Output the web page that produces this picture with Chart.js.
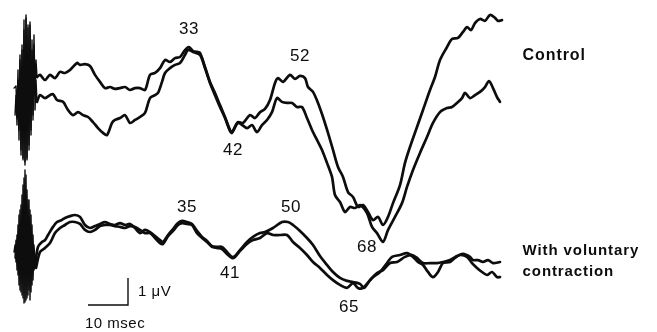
<!DOCTYPE html>
<html>
<head>
<meta charset="utf-8">
<script src="https://cdn.jsdelivr.net/npm/chart.js@4/dist/chart.umd.min.js"></script>
<style>
html,body{margin:0;padding:0;background:#fff;}
#wrap{width:657px;height:332px;position:relative;}
</style>
</head>
<body>
<div id="wrap"><canvas id="c"></canvas></div>
<script>
// ---- Control recordings (time in ms from stimulus, amplitude in µV relative to baseline) ----
const ctrlArtifact1Ms = [-2.75,-2.25,-2,-1.75,-1.5,-1.25,-1,-0.75,-0.5,-0.25,0,0.25,0.5,0.75,1,1.25,1.5,1.75,2,2.25,2.5,2.75,3];
const ctrlArtifact1Uv = [-0.30,-0.22,-1.41,0.37,-1.85,0.93,-2.59,1.30,-2.96,2.22,-3.15,2.41,-2.96,2.04,-2.59,2.15,-2.04,1.48,-1.48,1.67,-0.56,0.74,0.11];
const ctrlArtifact2Ms = [-2.5,-2.25,-2,-1.75,-1.5,-1.25,-1,-0.75,-0.5,-0.25,0,0.25,0.5,0.75,1,1.25,1.5,1.75,2,2.25,2.5,2.75,3];
const ctrlArtifact2Uv = [-1.30,-0.56,-1.67,0,-2.22,0.74,-2.78,1.11,-2.89,1.85,-3.04,2.30,-2.89,1.93,-2.41,2.04,-1.85,1.11,-1.30,1.30,-1.11,0,-0.81];

const ctrlAMs = [3,3.75,5,6.25,7.5,8.75,10,11.25,13,13.75,15,16.25,17.5,18.75,20,21.25,22.5,23.75,25,26.25,27.5,28.75,30,31.25,32.5,33.75,35,36.25,37.5,38.75,40,41,42,43,43.75,45,46.25,47.5,48.75,50,51.25,51.75,53.25,54.5,56.25,57.5,58.75,60,61.25,62.5,63.25,64.5,66.25,67.5,68.75,70,70.75,72,73.25,74.5,75.75,77,78.25,79.5,80.75,82,83.25,84.5,85.75,87,88.25,89.5,90.75,92,93.75,95,96.25,98,99.5,101.25,102.5,103.75,105.5,106.75,108.25,109.5,110.5,111.5,112.5,113.75,115,116.25,117.5,118.25,119.25];
const ctrlAUv = [0.11,0.19,0,0.19,0.07,0.30,0.26,0.37,0.63,0.56,0.59,0.52,0.19,-0.07,-0.30,-0.26,-0.33,-0.30,-0.26,-0.37,-0.30,-0.30,-0.37,0.19,0.26,0.44,0.74,0.67,0.81,0.85,1.11,1.22,1.07,1.04,1.0,0.48,-0.07,-0.48,-0.93,-1.37,-1.85,-1.93,-1.56,-1.59,-1.30,-1.41,-1.19,-1.07,-0.74,-0.11,0.07,-0.07,0.19,0.04,0.15,0.07,-0.26,-0.44,-0.85,-1.37,-1.96,-2.59,-3.22,-3.59,-4.15,-4.33,-4.70,-4.63,-4.89,-5.19,-5.07,-5.37,-5.07,-4.56,-3.89,-3.07,-2.48,-1.74,-1.11,-0.37,0.11,0.74,1.22,1.52,1.56,1.78,1.96,1.85,2.11,2.26,2.19,2.41,2.30,2.19,2.22];

const ctrlBMs = [3,3.75,5,6.25,7,8,9.5,10.75,12,13.25,14.5,15.75,17,18.25,19.5,20.5,21.75,22.5,23.75,25,26.25,27.5,28.75,30,31.25,32.5,33.25,34.25,35,36.25,37.5,38.75,40,40.75,42,43.75,45,46.25,47.5,48.75,50,51.25,51.75,53.25,55.5,56.75,58,59.25,60.5,61.75,63,64.25,65.5,66.75,68,69.25,70.5,71.75,73,74.25,75.5,76.75,77.5,78.75,80,81.25,82.5,83.75,85.5,86.75,88,89.5,90.75,92.5,94.25,95.5,97,98.75,100.5,102,103.75,105.5,106.75,108,109.25,110,111.25,112.5,113.75,115,116,117,118,118.75];
const ctrlBUv = [-0.81,-0.56,-0.67,-0.56,-0.52,-0.74,-0.81,-1.11,-1.30,-1.19,-1.30,-1.37,-1.56,-1.78,-1.96,-2.04,-1.59,-1.48,-1.41,-1.30,-1.59,-1.48,-1.37,-1.22,-0.67,-0.56,-0.48,-0.07,0.26,0.44,0.56,0.63,0.93,1.11,1.04,0.93,0.44,-0.11,-0.56,-1.0,-1.41,-1.89,-1.96,-1.59,-1.78,-1.67,-1.93,-1.67,-1.48,-1.19,-0.67,-0.81,-0.85,-0.85,-1.0,-1.0,-1.41,-1.85,-2.22,-2.59,-3.07,-3.59,-4.26,-4.52,-4.89,-4.70,-4.74,-4.63,-4.93,-5.44,-5.67,-6.0,-5.56,-5.07,-4.56,-3.96,-3.33,-2.70,-2.11,-1.59,-1.19,-1.04,-1.0,-0.85,-0.67,-0.48,-0.67,-0.56,-0.44,-0.26,-0.04,-0.30,-0.63,-0.81];

// ---- With voluntary contraction ----
const volArtifact1Ms = [-2.75,-2.5,-2.25,-2,-1.75,-1.5,-1.25,-1,-0.75,-0.5,-0.25,0,0.25,0.5,0.75,1,1.25,1.5,1.75,2,2.25,2.5];
const volArtifact1Uv = [-0.63,-0.37,-1.0,0,-1.48,0.74,-2.04,1.11,-2.22,1.85,-2.52,2.41,-2.41,1.67,-2.22,1.30,-2.41,0.74,-1.85,0,-1.30,-1.11];
const volArtifact2Ms = [-2.5,-2.25,-2,-1.75,-1.5,-1.25,-1,-0.75,-0.5,-0.25,0,0.25,0.5,0.75,1,1.25,1.5,1.75,2,2.25,2.5,2.75];
const volArtifact2Uv = [-0.85,-0.19,-1.30,0.37,-1.85,0.93,-2.11,1.48,-2.33,2.11,-2.48,2.22,-2.33,1.30,-2.04,0.93,-2.11,0.37,-1.67,-0.37,-1.0,-1.22];

const volAMs = [2.5,3.25,4.25,5,5.75,7,8,9.25,10,11.25,12.5,13.75,15,16.25,17.5,18.75,20,21.25,22.5,23.75,25,26.25,27.5,28.75,30,31.25,32.5,33.75,34.5,35.75,37,38.25,39.25,40.5,41.75,43,44.25,45.5,46.75,48,49.25,50.5,51.75,52.5,53.75,55.5,57,58.75,60,62,64.25,65.75,67,68.75,70.5,72,73.75,75.5,77,78.75,80.5,82,83.75,84.75,85.75,86.75,88.75,90.5,91.75,93.75,95.5,97,98.25,99.5,100.75,102,103.25,104.5,106.25,107.5,108.75,110.5,111.75,113,114.25,115.5,116.75,118,118.75];
const volAUv = [-1.11,-0.44,-0.26,-0.19,0,0.30,0.48,0.56,0.63,0.70,0.74,0.67,0.37,0.26,0.33,0.41,0.48,0.41,0.37,0.44,0.37,0.41,0.26,0.07,0.19,0.11,-0.04,-0.19,-0.26,0,0.22,0.44,0.52,0.48,0.41,0.15,-0.07,-0.22,-0.41,-0.44,-0.44,-0.63,-0.81,-0.78,-0.56,-0.26,-0.07,0.07,0.11,0.26,0.48,0.48,0.37,0.15,-0.11,-0.37,-0.78,-1.11,-1.37,-1.59,-1.70,-1.74,-1.81,-1.96,-1.78,-1.59,-1.37,-1.04,-0.81,-0.74,-0.67,-0.81,-1.0,-1.11,-1.37,-1.56,-1.37,-1.04,-1.0,-0.85,-0.74,-0.81,-1.04,-1.22,-1.37,-1.48,-1.37,-1.56,-1.56];

const volBMs = [2.75,3.75,5,6.25,7.5,8.75,10,11.25,12.5,13.75,15,16.25,17.5,18.75,20,21.25,22.5,23.75,25,26.25,27.5,28.75,30,31.25,32.5,33.75,34.5,35.75,37,38.25,39.25,40.5,41.75,43,44.25,45.5,46.75,48,49.25,50.5,51.75,52.5,53.75,55.5,57,58.75,60.5,62,63.75,65.5,67,68.75,70.5,72,73.75,75.5,77,78.75,80.5,82,83.25,84.5,86.25,88,89.5,91.25,93,95,96.75,98,99.5,101.25,103,104.5,106.25,108,109.5,111.25,112,113.25,114.5,115.75,117,118.75];
const volBUv = [-1.22,-0.63,-0.48,-0.30,0.07,0.26,0.37,0.48,0.48,0.41,0.19,0.11,0.19,0.33,0.37,0.37,0.33,0.30,0.26,0.33,0.30,0.19,0.07,0.07,-0.11,-0.30,-0.33,-0.04,0.15,0.37,0.44,0.41,0.37,0.07,-0.11,-0.26,-0.44,-0.48,-0.52,-0.70,-0.85,-0.81,-0.59,-0.33,-0.19,-0.11,0.07,0,0,0,-0.26,-0.48,-0.74,-1.0,-1.22,-1.48,-1.67,-1.85,-1.96,-1.78,-1.96,-1.96,-1.67,-1.41,-1.30,-1.04,-1.0,-0.81,-0.74,-0.85,-1.04,-1.04,-1.04,-1.0,-0.93,-0.78,-0.70,-0.81,-0.93,-0.93,-1.0,-0.93,-1.04,-1.0];

// ---- Peak latency labels (ms) and trace names ----
const ctrlPeakLabels = ["33","42","52","68"];
const volPeakLabels = ["35","41","50","65"];
const traceNames = ["Control", "With voluntary", "contraction"];
const scaleBarMs = 10;
const scaleBarUv = 1;
const scaleBarLabels = ["1 \u03bcV", "10 msec"];

// ---- Layout (annotation anchor positions in data units) ----
const ctrlLabelPos = [[41,1.89],[52,-2.59],[68.75,0.89],[85.5,-6.19]];
const volLabelPos = [[40.5,1.04],[51.25,-1.41],[66.5,1.04],[81,-2.67]];
const barOrigin = [15.75,-2.593];

function pts(xs, ys){ return xs.map((x,i)=>({x:x, y:ys[i]})); }

const INK = '#0d0d0d';
function trace(data, axis, w, tension){
  return {data:data, yAxisID:axis, borderColor:INK, borderWidth:w, pointRadius:0,
          tension:tension, fill:false, borderJoinStyle:'round', borderCapStyle:'round'};
}

const datasets = [
  trace(pts(ctrlArtifact1Ms, ctrlArtifact1Uv), 'yC', 1.4, 0),
  trace(pts(ctrlArtifact2Ms, ctrlArtifact2Uv), 'yC', 1.4, 0),
  trace(pts(ctrlAMs, ctrlAUv), 'yC', 2.7, 0.3),
  trace(pts(ctrlBMs, ctrlBUv), 'yC', 2.7, 0.3),
  trace(pts(volArtifact1Ms, volArtifact1Uv), 'yV', 1.4, 0),
  trace(pts(volArtifact2Ms, volArtifact2Uv), 'yV', 1.4, 0),
  trace(pts(volAMs, volAUv), 'yV', 2.7, 0.3),
  trace(pts(volBMs, volBUv), 'yV', 2.7, 0.3),
  // calibration bar
  {data:[{x:barOrigin[0], y:barOrigin[1]},{x:barOrigin[0]+scaleBarMs, y:barOrigin[1]},{x:barOrigin[0]+scaleBarMs, y:barOrigin[1]+scaleBarUv}],
   yAxisID:'yV', borderColor:INK, borderWidth:1.4, pointRadius:0, tension:0, fill:false}
];

const textPlugin = {
  id:'texts',
  afterDatasetsDraw(chart){
    const ctx = chart.ctx, x = chart.scales.x, yC = chart.scales.yC, yV = chart.scales.yV;
    ctx.save();
    ctx.fillStyle = INK;
    ctx.textBaseline = 'middle';
    ctx.textAlign = 'center';
    ctx.font = '17px "Liberation Sans", Arial, sans-serif';
    try { ctx.letterSpacing = '0.5px'; } catch(e) {}
    ctrlPeakLabels.forEach((t,i)=>ctx.fillText(t, x.getPixelForValue(ctrlLabelPos[i][0]), yC.getPixelForValue(ctrlLabelPos[i][1])));
    volPeakLabels.forEach((t,i)=>ctx.fillText(t, x.getPixelForValue(volLabelPos[i][0]), yV.getPixelForValue(volLabelPos[i][1])));
    ctx.textAlign = 'left';
    ctx.font = 'bold 16px "Liberation Sans", Arial, sans-serif';
    try { ctx.letterSpacing = '0.9px'; } catch(e) {}
    const nameX = x.getPixelForValue(124.4);
    ctx.fillText(traceNames[0], nameX, yC.getPixelForValue(0.89));
    ctx.font = 'bold 15px "Liberation Sans", Arial, sans-serif';
    ctx.fillText(traceNames[1], nameX, yV.getPixelForValue(-0.59));
    ctx.fillText(traceNames[2], nameX, yV.getPixelForValue(-1.37));
    try { ctx.letterSpacing = '0.5px'; } catch(e) {}
    ctx.font = '15px "Liberation Sans", Arial, sans-serif';
    ctx.fillText(scaleBarLabels[0], x.getPixelForValue(barOrigin[0]+scaleBarMs+2.5), yV.getPixelForValue(barOrigin[1]+0.48));
    ctx.fillText(scaleBarLabels[1], x.getPixelForValue(barOrigin[0]-0.75), yV.getPixelForValue(barOrigin[1]-0.7));
    ctx.restore();
  }
};

new Chart(document.getElementById('c'), {
  type:'line',
  data:{datasets:datasets},
  options:{
    responsive:true, maintainAspectRatio:false, animation:false,
    layout:{padding:0},
    plugins:{legend:{display:false}, tooltip:{enabled:false}},
    scales:{
      x:{type:'linear', display:false, min:-6.25, max:158, offset:false},
      yC:{type:'linear', display:false, min:-9.333, max:2.963, position:'left'},
      yV:{type:'linear', display:false, min:-3.593, max:8.704, position:'left'}
    }
  },
  plugins:[textPlugin]
});
</script>
</body>
</html>
